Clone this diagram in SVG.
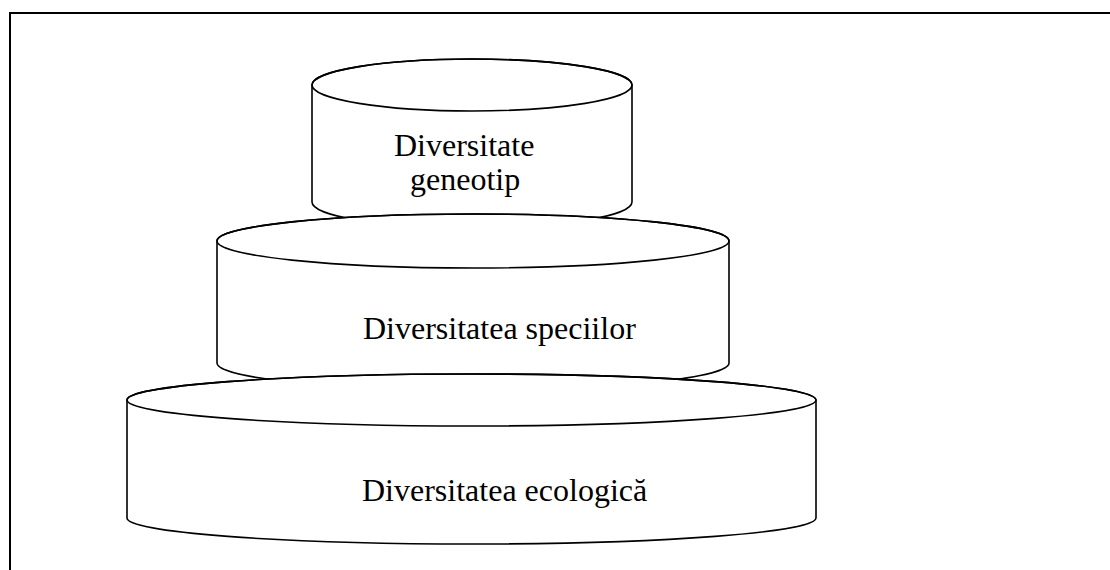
<svg xmlns="http://www.w3.org/2000/svg" width="1110" height="570" viewBox="0 0 1110 570">
<style>
.body{fill:#fff;stroke:#000;stroke-width:1.6}
.lid{fill:none;stroke:#000;stroke-width:1.6}
.lbl{font-family:"Liberation Serif","Times New Roman",serif;font-size:32px;fill:#000}
</style>
<rect width="1110" height="570" fill="#fff"/>
<path d="M10,570 V13 H1110" fill="none" stroke="#000" stroke-width="2"/>
<g id="cyl-top">
<path class="body" d="M312,85 V202 A160,26 0 0 0 632,202 V85 A160,26 0 0 0 312,85 Z"/>
<ellipse class="lid" cx="472" cy="85" rx="160" ry="26"/>
<text class="lbl" x="394" y="156">Diversitate</text>
<text class="lbl" x="410" y="190">geneotip</text>
</g>
<g id="cyl-middle">
<path class="body" d="M217,241 V363 A256,27 0 0 0 729,363 V241 A256,27 0 0 0 217,241 Z"/>
<ellipse class="lid" cx="473" cy="241" rx="256" ry="27"/>
<text class="lbl" x="363" y="339">Diversitatea speciilor</text>
</g>
<g id="cyl-bottom">
<path class="body" d="M127,400 V518 A344.5,26 0 0 0 816,518 V400 A344.5,26 0 0 0 127,400 Z"/>
<ellipse class="lid" cx="471.5" cy="400" rx="344.5" ry="26"/>
<text class="lbl" x="362" y="501">Diversitatea ecologică</text>
</g>
<g id="connectors"></g>
</svg>
